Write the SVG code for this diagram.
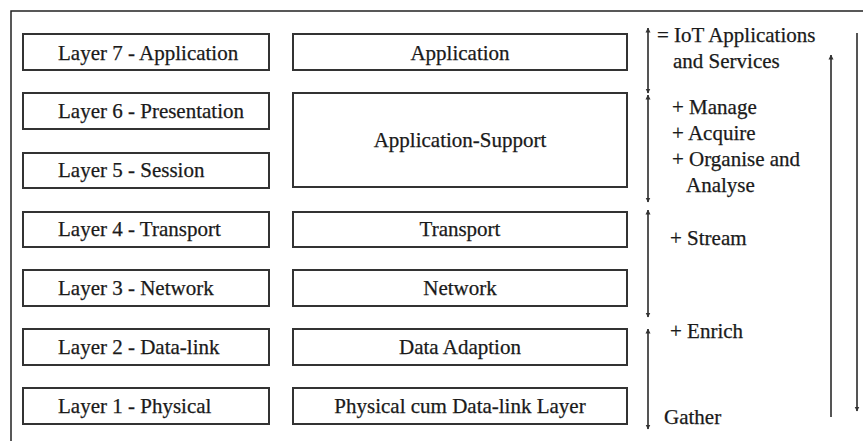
<svg xmlns="http://www.w3.org/2000/svg" width="863" height="441" viewBox="0 0 863 441">
<defs>
<marker id="ah" viewBox="0 0 10 10" refX="9" refY="5" markerWidth="5" markerHeight="6" orient="auto-start-reverse" markerUnits="userSpaceOnUse">
<path d="M0,0 L10,5 L0,10 z" fill="#333"/>
</marker>
</defs>
<style>
.box{fill:#fff;stroke:#333;stroke-width:2}
.t{font-family:"Liberation Serif","Times New Roman",serif;font-size:21px;fill:#1a1a1a;stroke:#1a1a1a;stroke-width:0.25}
.m{text-anchor:middle}
.a{stroke:#555;stroke-width:2;fill:none}
</style>
<rect x="0" y="0" width="863" height="441" fill="#fff"/>
<rect x="11" y="11" width="880" height="460" fill="none" stroke="#222" stroke-width="1.5"/>
<g id="l7"><rect class="box" x="23" y="34" width="246" height="36"/><text class="t" x="58" y="60">Layer 7 - Application</text></g>
<g id="l6"><rect class="box" x="23" y="93" width="246" height="36"/><text class="t" x="58" y="118">Layer 6 - Presentation</text></g>
<g id="l5"><rect class="box" x="23" y="153" width="246" height="35"/><text class="t" x="58" y="177">Layer 5 - Session</text></g>
<g id="l4"><rect class="box" x="23" y="212" width="246" height="35"/><text class="t" x="58" y="236">Layer 4 - Transport</text></g>
<g id="l3"><rect class="box" x="23" y="270" width="246" height="36"/><text class="t" x="58" y="295">Layer 3 - Network</text></g>
<g id="l2"><rect class="box" x="23" y="329" width="246" height="36"/><text class="t" x="58" y="354">Layer 2 - Data-link</text></g>
<g id="l1"><rect class="box" x="23" y="388" width="246" height="36"/><text class="t" x="58" y="413">Layer 1 - Physical</text></g>
<g id="iapp"><rect class="box" x="293" y="34" width="334" height="36"/><text class="t m" x="460" y="60">Application</text></g>
<g id="isup"><rect class="box" x="293" y="93" width="334" height="94"/><text class="t m" x="460" y="147">Application-Support</text></g>
<g id="itra"><rect class="box" x="293" y="212" width="334" height="35"/><text class="t m" x="460" y="236">Transport</text></g>
<g id="inet"><rect class="box" x="293" y="270" width="334" height="36"/><text class="t m" x="460" y="295">Network</text></g>
<g id="idat"><rect class="box" x="293" y="329" width="334" height="36"/><text class="t m" x="460" y="354">Data Adaption</text></g>
<g id="iphy"><rect class="box" x="293" y="388" width="334" height="36"/><text class="t m" x="460" y="413">Physical cum Data-link Layer</text></g>
<g id="labels">
<text class="t" x="657" y="42">= IoT Applications</text>
<text class="t" x="673" y="68">and Services</text>
<text class="t" x="672" y="114">+ Manage</text>
<text class="t" x="672" y="140">+ Acquire</text>
<text class="t" x="672" y="166">+ Organise and</text>
<text class="t" x="686" y="192">Analyse</text>
<text class="t" x="670" y="245">+ Stream</text>
<text class="t" x="670" y="338">+ Enrich</text>
<text class="t" x="664" y="424">Gather</text>
</g>
<g id="connectors">
<line class="a" x1="648" y1="28" x2="648" y2="93" marker-start="url(#ah)" marker-end="url(#ah)"/>
<line class="a" x1="648" y1="95" x2="648" y2="202" marker-start="url(#ah)" marker-end="url(#ah)"/>
<line class="a" x1="648" y1="210" x2="648" y2="317" marker-start="url(#ah)" marker-end="url(#ah)"/>
<line class="a" x1="648" y1="329" x2="648" y2="429" marker-start="url(#ah)" marker-end="url(#ah)"/>
<line class="a" x1="831" y1="417" x2="831" y2="55" marker-end="url(#ah)"/>
<line class="a" x1="857" y1="33" x2="857" y2="411" marker-end="url(#ah)"/>
</g>
</svg>
